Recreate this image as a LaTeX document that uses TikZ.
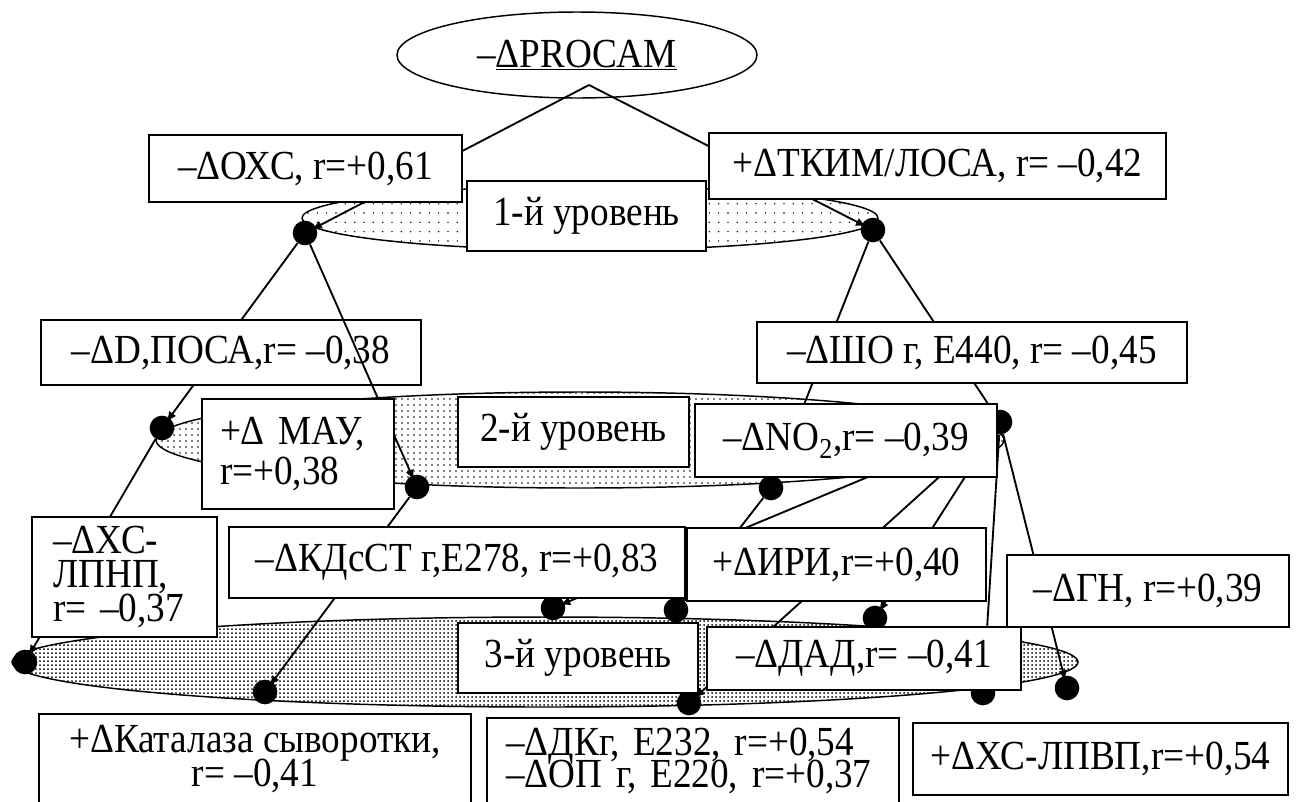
\documentclass[tikz,border=0pt]{standalone}
\usepackage{fontspec}
\setmainfont{Liberation Serif}[FakeStretch=0.9]
\usetikzlibrary{patterns.meta,arrows.meta,shapes.geometric}
\begin{document}
\begin{tikzpicture}[x=0.75pt,y=-0.75pt,
  every node/.style={font={\fontsize{31}{25.5}\selectfont\lineskiplimit=-40pt}},
  box/.style={draw, line width=1.2pt, fill=white, inner sep=0pt, anchor=center},
  dotn/.style={circle, fill=black, inner sep=0pt, minimum size=18.5pt},
  conn/.style={line width=1.4pt, -{Latex[length=8pt,width=6.5pt]}, shorten >=-4pt},
  lvl/.style={draw, line width=1.1pt}
]
\path[use as bounding box] (0,0) rectangle (1302,801);
\clip (0,0) rectangle (1302,801);

% level ellipses
\path[lvl, fill=white] (590,218) ellipse [x radius=216pt, y radius=24pt];
\path[pattern={Dots[distance=7pt,radius=0.6pt]}] (590,218) ellipse [x radius=216pt, y radius=24pt];
\path[lvl, fill=white] (580,440) ellipse [x radius=318pt, y radius=36pt];
\path[pattern={Dots[distance=4.5pt,radius=0.65pt]}] (580,440) ellipse [x radius=318pt, y radius=36pt];
\path[lvl, fill=white] (545,662) ellipse [x radius=399.75pt, y radius=33.75pt];
\path[pattern={Dots[distance=3pt,radius=0.75pt]}] (545,662) ellipse [x radius=399.75pt, y radius=33.75pt];

% root
\node[draw, ellipse, line width=1.1pt, minimum width=270pt, minimum height=64.5pt, inner sep=0pt] (root) at (577,55) {–\underline{ΔPROCAM}};
\coordinate (apex) at (589,85);

% dots
\node[dotn] (dA1) at (305,233) {};
\node[dotn] (dB1) at (873,230) {};
\node[dotn] (d2a) at (162,428) {};
\node[dotn] (d2b) at (417,487) {};
\node[dotn] (d2c) at (771,488) {};
\node[dotn] (d2d) at (1000,422) {};
\node[dotn] (d3a) at (25,662) {};
\node[dotn] (d3b) at (265,692) {};
\node[dotn] (d3c) at (553,608) {};
\node[dotn] (d3d) at (676,610) {};
\node[dotn] (d3e) at (875,618) {};
\node[dotn] (d3f) at (689,703) {};
\node[dotn] (d3g) at (983,693) {};
\node[dotn] (d3h) at (1067,688) {};

% connectors
\draw[conn] (apex) -- (dA1);
\draw[conn] (apex) -- (dB1);
\draw[conn] (dA1) -- (d2a);
\draw[conn] (dB1) -- (d2c);
\draw[conn] (dB1) -- (d2d);
\draw[conn] (d2a) -- (d3a);
\draw[conn] (d2b) -- (d3b);
\draw[conn] (d2c) -- (d3d);
\draw[conn] (d2d) -- (d3c);
\draw[conn] (d2d) -- (d3f);
\draw[conn] (d2d) -- (d3e);
\draw[conn] (d2d) -- (d3g);
\draw[conn] (d2d) -- (d3h);

\node[box, minimum width=285pt, minimum height=48.75pt] (dposa) at (231,352.5) {–ΔD,ПОСА,r= –0,38};
\draw[conn] (dA1) -- (d2b);

% boxes
\node[box, minimum width=234.75pt, minimum height=50.25pt] (oxc) at (305.5,168.5) {–ΔОХС, r=+0,61};
\node[box, minimum width=342.75pt, minimum height=49.5pt] (tkim) at (937.5,166) {+ΔТКИМ/ЛОСА, r= –0,42};
\node[box, minimum width=179.25pt, minimum height=52.5pt] (lvl1) at (586.5,216) {1-й уровень};
\node[box, minimum width=322.5pt, minimum height=45.75pt] (sho) at (972,352.5) {–ΔШО г, Е440, r= –0,45};
\node[box, minimum width=144pt, minimum height=82.5pt, text width=117pt, align=left, font={\fontsize{31}{30}\selectfont}] (may) at (298,454) {+Δ МАУ,\\r=+0,38};
\node[box, minimum width=173.25pt, minimum height=52.5pt] (lvl2) at (573.5,432) {2-й уровень};
\node[box, minimum width=226.5pt, minimum height=54.75pt] (no2) at (846,440.5) {–ΔNO\textsubscript{2},r= –0,39};
\node[box, minimum width=138.75pt, minimum height=90pt, text width=107pt, align=left] (xcl) at (124.5,577) {–ΔХС-\\ЛПНП,\\r= –0,37};
\node[box, minimum width=342pt, minimum height=53.25pt] (kd) at (457,562.5) {–ΔКДсСТ г,Е278, r=+0,83};
\node[box, minimum width=224.25pt, minimum height=54.75pt] (iri) at (836.5,564.5) {+ΔИРИ,r=+0,40};
\node[box, minimum width=211.5pt, minimum height=54pt] (gn) at (1148,591) {–ΔГН, r=+0,39};
\node[box, minimum width=180pt, minimum height=52.5pt] (lvl3) at (578,658) {3-й уровень};
\node[box, minimum width=235.5pt, minimum height=47.25pt] (dad) at (864,658.5) {–ΔДАД,r= –0,41};
\node[box, minimum width=324pt, minimum height=67.5pt, align=center] (cat) at (255,759) {+ΔКаталаза сыворотки,\\r= –0,41};
\node[box, minimum width=309pt, minimum height=64.5pt, text width=280pt, align=left, font={\fontsize{31}{23.5}\selectfont\lineskiplimit=-40pt}] (dkg) at (693,761) {–ΔДКг, Е232, r=+0,54\\–ΔОП г, Е220, r=+0,37};
\node[box, minimum width=281.25pt, minimum height=54pt] (xcv) at (1100.5,759) {+ΔХС-ЛПВП,r=+0,54};
\end{tikzpicture}
\end{document}
